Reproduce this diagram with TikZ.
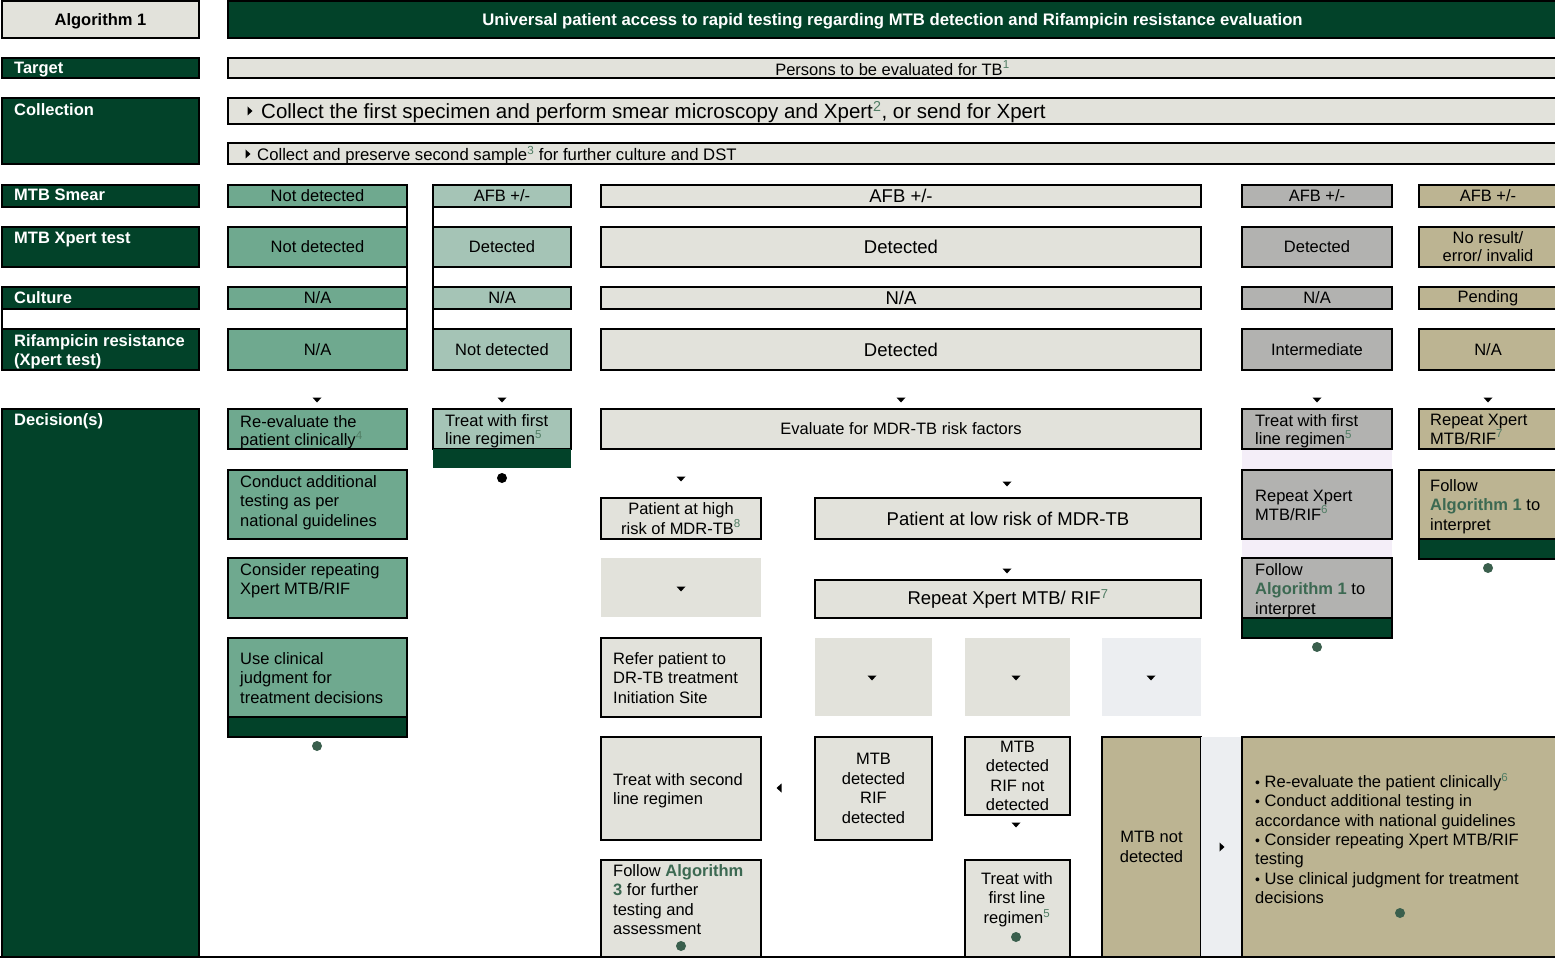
\documentclass[tikz,border=0pt]{standalone}
\usepackage{fontspec}
\setmainfont{Liberation Sans}
\definecolor{dg}{RGB}{2,66,41}
\definecolor{lg}{RGB}{226,226,219}
\definecolor{mg}{RGB}{111,169,143}
\definecolor{pg}{RGB}{165,196,182}
\definecolor{gy}{RGB}{178,178,176}
\definecolor{tn}{RGB}{188,180,146}
\definecolor{bl}{RGB}{236,238,241}
\definecolor{lv}{RGB}{244,238,248}
\definecolor{sg}{RGB}{80,125,100}
\definecolor{ag}{RGB}{60,105,82}
\definecolor{dot}{RGB}{58,95,77}
\newcommand\sza{\fontsize{16.5}{19.5}\selectfont}
\newcommand\szb{\fontsize{18.5}{21}\selectfont}
\newcommand\szc{\fontsize{20.5}{23}\selectfont}
\newcommand\szh{\fontsize{16.5}{19}\selectfont}
\newcommand\fnm[1]{\textsuperscript{\textcolor{sg}{#1}}}
\newcommand\alg[1]{\textcolor{ag}{\bfseries #1}}
\newcommand\bul{{\fontsize{14}{14}\selectfont\textbullet}\ }
\tikzset{
 bx/.style={draw=black,line width=2.2pt,inner sep=0pt,outer sep=0pt,anchor=north west,align=center,font=\sza},
 fl/.style={draw=none,inner sep=0pt,outer sep=0pt,anchor=north west},
 hd/.style={text=white,font=\bfseries\szh,anchor=north west,inner sep=0pt,align=left},
 lt/.style={font=\sza,align=left,anchor=north west,inner sep=0pt},
 ln/.style={line width=2.2pt},
 capc/.style={text height=12pt,text depth=0pt},
}
\newcommand\rbox[7][]{\node[bx,minimum width={(#5)-(#3)},minimum height={(#6)-(#4)},#1] (#2) at (#3,#4) {#7};}
\newcommand\flr[6][]{\node[fl,minimum width={(#5)-(#3)},minimum height={(#6)-(#4)},#1] (#2) at (#3,#4) {};}
\newcommand\tx[5][]{\node[lt,#1] (#2) at (#3,#4-6) {#5};}
\newcommand\dar[2]{\fill (#1-4.5,#2-2.5) -- (#1+4.5,#2-2.5) -- (#1,#2+2.5) -- cycle;}
\newcommand\rar[2]{\fill (#1-2.5,#2-4.5) -- (#1-2.5,#2+4.5) -- (#1+2.5,#2) -- cycle;}
\newcommand\lar[2]{\fill (#1+2.5,#2-4.5) -- (#1+2.5,#2+4.5) -- (#1-2.5,#2) -- cycle;}
\newcommand\dotc[3][dot]{\fill[#1] (#2,#3) circle (5pt);}
\begin{document}
\begin{tikzpicture}[x=1pt,y=-1pt]
\useasboundingbox (0,0) rectangle (1555,960);
\clip (0,0) rectangle (1555,960);
% header
\rbox[fill=lg,font=\bfseries\sza,capc]{alg}{2}{1}{199}{38}{Algorithm 1}
\rbox[fill=dg,text=white,font=\bfseries\fontsize{16.7}{19}\selectfont,capc]{ttl}{228}{1}{1557}{38}{Universal patient access to rapid testing regarding MTB detection and Rifampicin resistance evaluation}
% target
\rbox[fill=dg]{hT}{2}{58}{199}{78}{}
\node[hd] (lT) at (14,62) {Target};
\rbox[fill=lg]{tgt}{228}{58}{1557}{78}{Persons to be evaluated for TB\fnm{1}}
% collection
\rbox[fill=dg]{hC}{2}{98}{199}{164}{}
\node[hd] (lC) at (14,103) {Collection};
\rbox[fill=lg]{c1}{228}{98}{1557}{124}{}
\rar{250}{111}
\node[anchor=west,inner sep=0pt,font=\szc] (c1t) at (261,112) {Collect the first specimen and perform smear microscopy and Xpert\fnm{2}, or send for Xpert};
\rbox[fill=lg]{c2}{228}{143}{1557}{164}{}
\rar{248}{154}
\node[anchor=west,inner sep=0pt,font=\fontsize{16.7}{19}\selectfont] (c2t) at (257,155) {Collect and preserve second sample\fnm{3} for further culture and DST};
% smear
\rbox[fill=dg]{hS}{2}{185}{199}{207}{}
\node[hd] (lS) at (14,189) {MTB Smear};
\rbox[fill=mg]{s1}{228}{185}{407}{207}{\raisebox{-1pt}{Not detected}}
\rbox[fill=pg]{s2}{433}{185}{571}{207}{\raisebox{-1pt}{AFB +/-}}
\rbox[fill=lg,font=\szb]{s3}{601}{185}{1201}{207}{\raisebox{-1pt}{AFB +/-}}
\rbox[fill=gy]{s4}{1242}{185}{1392}{207}{AFB +/-}
\rbox[fill=tn]{s5}{1419}{185}{1557}{207}{AFB +/-}
% xpert
\rbox[fill=dg]{hX}{2}{227}{199}{267}{}
\node[hd] (lX) at (14,232) {MTB Xpert test};
\rbox[fill=mg]{x1}{228}{227}{407}{267}{\raisebox{-1.5pt}{Not detected}}
\rbox[fill=pg]{x2}{433}{227}{571}{267}{\raisebox{-1.5pt}{Detected}}
\rbox[fill=lg,font=\szb]{x3}{601}{227}{1201}{267}{\raisebox{-1pt}{Detected}}
\rbox[fill=gy]{x4}{1242}{227}{1392}{267}{\raisebox{-1.5pt}{Detected}}
\rbox[fill=tn,font=\fontsize{16.5}{18}\selectfont]{x5}{1419}{227}{1557}{267}{\raisebox{-1.5pt}{No result/}\\\raisebox{-1.5pt}{error/ invalid}}
% culture
\rbox[fill=dg]{hU}{2}{287}{199}{309}{}
\node[hd] (lU) at (14,291.5) {Culture};
\rbox[fill=mg]{u1}{228}{287}{407}{309}{\raisebox{-1pt}{N/A}}
\rbox[fill=pg]{u2}{433}{287}{571}{309}{\raisebox{-1pt}{N/A}}
\rbox[fill=lg,font=\szb]{u3}{601}{287}{1201}{309}{\raisebox{-1pt}{N/A}}
\rbox[fill=gy]{u4}{1242}{287}{1392}{309}{N/A}
\rbox[fill=tn]{u5}{1419}{287}{1557}{309}{Pending}
% rifampicin
\rbox[fill=dg]{hR}{2}{329}{199}{370}{}
\node[hd] (lR) at (14,334.5) {Rifampicin resistance\\(Xpert test)};
\rbox[fill=mg]{r1}{228}{329}{407}{370}{\raisebox{-1.5pt}{N/A}}
\rbox[fill=pg]{r2}{433}{329}{571}{370}{\raisebox{-1.5pt}{Not detected}}
\rbox[fill=lg,font=\szb]{r3}{601}{329}{1201}{370}{\raisebox{-1pt}{Detected}}
\rbox[fill=gy]{r4}{1242}{329}{1392}{370}{\raisebox{-1.5pt}{Intermediate}}
\rbox[fill=tn]{r5}{1419}{329}{1557}{370}{\raisebox{-1.5pt}{N/A}}
\draw[ln] (s1.north east) -- (r1.south east);
\draw[ln] (s2.north west) -- (r2.south west);
\draw[ln] (hU.south west) -- (hR.north west);
% decisions
\rbox[fill=dg]{hD}{2}{409}{199}{957}{}
\node[hd] (lD) at (14,413.5) {Decision(s)};
\dar{317}{400} \dar{502}{400} \dar{901}{400} \dar{1317}{400} \dar{1488}{400}
% column 1
\rbox[fill=mg]{d11}{228}{409}{407}{449}{}
\tx[font=\fontsize{16.5}{18.5}\selectfont]{d11t}{240}{421}{Re-evaluate the\\patient clinically\fnm{4}}
\rbox[fill=mg]{d12}{228}{470}{407}{539}{}
\tx{d12t}{240}{481}{Conduct additional\\testing as per\\national guidelines}
\rbox[fill=mg]{d13}{228}{558}{407}{618}{}
\tx{d13t}{240}{569}{Consider repeating\\Xpert MTB/RIF}
\rbox[fill=mg]{d14}{228}{638}{407}{717}{}
\tx{d14t}{240}{658}{Use clinical\\judgment for\\treatment decisions}
\rbox[fill=dg]{d15}{228}{717}{407}{737}{}
\dotc{317}{746}
% column 2
\rbox[fill=pg]{d21}{433}{409}{571}{449}{}
\flr[fill=dg]{d22}{433}{449}{571}{468}
\tx[font=\fontsize{16.5}{18.5}\selectfont]{d21t}{445}{420}{Treat with first\\line regimen\fnm{5}}
\dotc[black]{502}{478}
% column 3
\rbox[fill=lg]{ev}{601}{409}{1201}{449}{\raisebox{-1.5pt}{Evaluate for MDR-TB risk factors}}
\dar{681}{479} \dar{1007}{484}
\rbox[fill=lg]{hi}{601}{498}{761}{539}{Patient at high\\risk of MDR-TB\fnm{8}}
\rbox[fill=lg,font=\szb]{lo}{815}{498}{1201}{539}{\raisebox{-1.5pt}{Patient at low risk of MDR-TB}}
\flr[fill=lg]{f1}{601}{558}{761}{617}
\dar{681}{589}
\dar{1007}{571}
\rbox[fill=lg,font=\szb]{rp}{815}{580}{1201}{618}{\raisebox{-1.5pt}{Repeat Xpert MTB/ RIF\fnm{7}}}
\rbox[fill=lg]{rf}{601}{638}{761}{717}{}
\tx{rft}{613}{658}{Refer patient to\\DR-TB treatment\\Initiation Site}
\flr[fill=lg]{f2}{815}{638}{932}{716}
\flr[fill=lg]{f3}{965}{638}{1070}{716}
\flr[fill=bl]{f4}{1102}{638}{1201}{716}
\dar{872}{678} \dar{1016}{678} \dar{1151}{678}
\rbox[fill=lg]{t2}{601}{737}{761}{840}{}
\tx{t2t}{613}{779}{Treat with second\\line regimen}
\lar{779}{788}
\rbox[fill=lg]{mr}{815}{737}{932}{840}{MTB\\detected\\RIF\\detected}
\rbox[fill=lg]{mn}{965}{737}{1070}{815}{MTB\\detected\\RIF not\\detected}
\dar{1016}{825}
\rbox[fill=lg]{fa}{601}{860}{761}{957}{}
\tx{fat}{613}{870}{Follow \alg{Algorithm}\\\alg{3} for further\\testing and\\assessment}
\dotc{681}{946}
\rbox[fill=lg]{tf}{965}{860}{1070}{957}{}
\node[font=\sza,align=center] (tft) at (1017,899.5) {Treat with\\first line\\regimen\fnm{5}};
\dotc{1016}{937}
\rbox[fill=tn]{mnd}{1102}{737}{1201}{957}{MTB not\\detected}
\flr[fill=bl]{f5}{1201}{737}{1242}{957}
\rar{1222}{847}
\rbox[fill=tn]{big}{1242}{737}{1557}{957}{}
\tx[font=\fontsize{16.5}{19.3}\selectfont]{bigt}{1255}{779}{\bul Re-evaluate the patient clinically\fnm{6}\\\bul Conduct additional testing in\\accordance with national guidelines\\\bul Consider repeating Xpert MTB/RIF\\testing\\\bul Use clinical judgment for treatment\\decisions}
\dotc{1400}{913}
% column 4
\rbox[fill=gy]{c41}{1242}{409}{1392}{449}{}
\tx[font=\fontsize{16.5}{18.5}\selectfont]{c41t}{1255}{420}{Treat with first\\line regimen\fnm{5}}
\flr[fill=lv]{l1}{1242}{450}{1392}{470}
\rbox[fill=gy]{c42}{1242}{470}{1392}{539}{}
\tx[font=\fontsize{16.5}{18.5}\selectfont]{c42t}{1255}{496}{Repeat Xpert\\MTB/RIF\fnm{6}}
\flr[fill=lv]{l2}{1242}{540}{1392}{558}
\rbox[fill=gy]{c43}{1242}{558}{1392}{618}{}
\tx{c43t}{1255}{569}{Follow\\\alg{Algorithm 1} to\\interpret}
\rbox[fill=dg]{c44}{1242}{618}{1392}{638}{}
\dotc{1317}{647}
% column 5
\rbox[fill=tn]{c51}{1419}{409}{1557}{449}{}
\tx[font=\fontsize{16.5}{18.5}\selectfont]{c51t}{1430}{420}{Repeat Xpert\\MTB/RIF\fnm{7}}
\rbox[fill=tn]{c52}{1419}{470}{1557}{539}{}
\tx{c52t}{1430}{485}{Follow\\\alg{Algorithm 1} to\\interpret}
\rbox[fill=dg]{c53}{1419}{539}{1557}{559}{}
\dotc{1488}{568}
% bottom rule
\draw[line width=2.5pt] (0,957) -- (1555,957);
\end{tikzpicture}
\end{document}
